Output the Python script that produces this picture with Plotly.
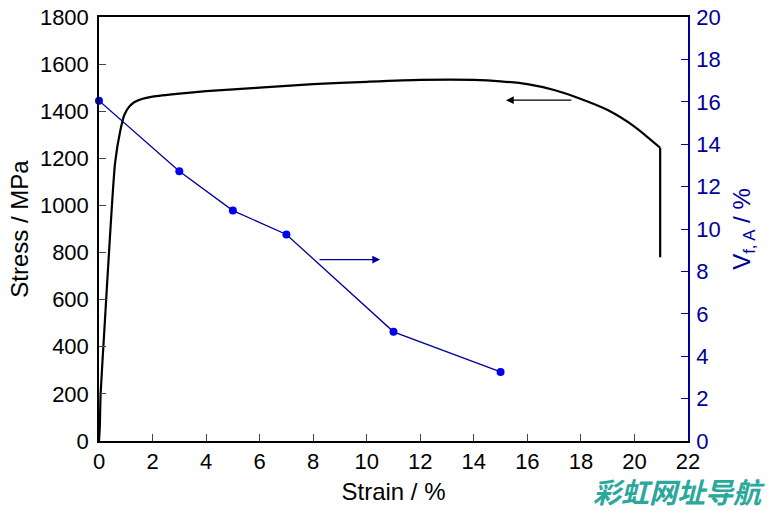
import plotly.graph_objects as go

# Stress-strain curve (left axis)
strain = [0.0, 0.03, 0.06, 0.2, 0.4, 0.6, 0.8, 0.95, 1.1, 1.3, 1.6, 2, 3, 4, 6, 8, 10, 12, 14, 15, 16, 17, 18, 19, 20, 20.96]
stress = [0, 60, 200, 470, 850, 1180, 1320, 1385, 1415, 1437, 1452, 1462, 1475, 1485, 1500, 1515, 1525, 1533, 1533, 1527, 1515, 1490, 1452, 1405, 1335, 1245]
# final fracture drop
drop_strain = [20.96, 20.96]
drop_stress = [1245, 780]

# Austenite volume fraction (right axis)
vf_strain = [0, 3, 5, 7, 11, 15]
vf_value = [16.05, 12.72, 10.87, 9.74, 5.15, 3.26]

x_ticks = list(range(0, 23, 2))
y_ticks = list(range(0, 1801, 200))
y2_ticks = list(range(0, 21, 2))

NAVY = "#000099"
FONT = "Liberation Sans, Arial, sans-serif"

fig = go.Figure()
fig.add_trace(go.Scatter(x=strain, y=stress, mode="lines",
                         line=dict(color="black", width=2.2, shape="spline", smoothing=0.6),
                         showlegend=False))
fig.add_trace(go.Scatter(x=drop_strain, y=drop_stress, mode="lines",
                         line=dict(color="black", width=2.2), showlegend=False))
fig.add_trace(go.Scatter(x=vf_strain, y=vf_value, mode="lines+markers", yaxis="y2",
                         line=dict(color=NAVY, width=1.3),
                         marker=dict(color="#0000ee", size=8), showlegend=False,
                         cliponaxis=False))

# arrows
fig.add_annotation(x=15.2, y=1447, ax=17.7, ay=1447, xref="x", yref="y", axref="x", ayref="y",
                   text="", showarrow=True, arrowhead=2, arrowsize=1.3, arrowwidth=1.2, arrowcolor="black")
fig.add_annotation(x=10.5, y=8.56, ax=8.18, ay=8.56, xref="x", yref="y2", axref="x", ayref="y2",
                   text="", showarrow=True, arrowhead=2, arrowsize=1.3, arrowwidth=1.2, arrowcolor=NAVY)

# watermark
fig.add_annotation(x=1.0, y=-0.065, xref="paper", yref="paper", xanchor="right", yanchor="top",
                   xshift=79, text="<b><i>彩虹网址导航</i></b>", showarrow=False,
                   font=dict(family="Noto Sans CJK SC", size=28, color="#2aa89c"))

fig.update_layout(
    width=768, height=511,
    margin=dict(l=99, r=80, t=17, b=70, autoexpand=False),
    plot_bgcolor="white", paper_bgcolor="white",
    font=dict(family=FONT, size=22, color="black"),
    xaxis=dict(range=[0, 22], tickvals=x_ticks, ticks="inside", ticklen=7, tickwidth=1,
               showline=True, linecolor="black", linewidth=1.5, mirror=True, showgrid=False,
               zeroline=False, automargin=False,
               title=dict(text="Strain / %", font=dict(size=24), standoff=10),
               tickfont=dict(size=22)),
    yaxis=dict(range=[0, 1800], tickvals=y_ticks, ticks="inside", ticklen=7, tickwidth=1,
               showline=True, linecolor="black", linewidth=1.5, showgrid=False, zeroline=False,
               automargin=False, ticklabelstandoff=4,
               title=dict(text="Stress / MPa", font=dict(size=24), standoff=4),
               tickfont=dict(size=22)),
    yaxis2=dict(range=[0, 20], tickvals=y2_ticks, overlaying="y", side="right",
                ticks="inside", ticklen=7, tickwidth=1, tickcolor=NAVY, automargin=False,
                showline=True, linecolor=NAVY, linewidth=1.5, showgrid=False, zeroline=False,
                tickfont=dict(size=22, color=NAVY), ticklabelstandoff=2,
                title=dict(text="V<sub>f, A</sub> / %", font=dict(size=24, color=NAVY), standoff=14)),
)

fig.write_html("out.html")
